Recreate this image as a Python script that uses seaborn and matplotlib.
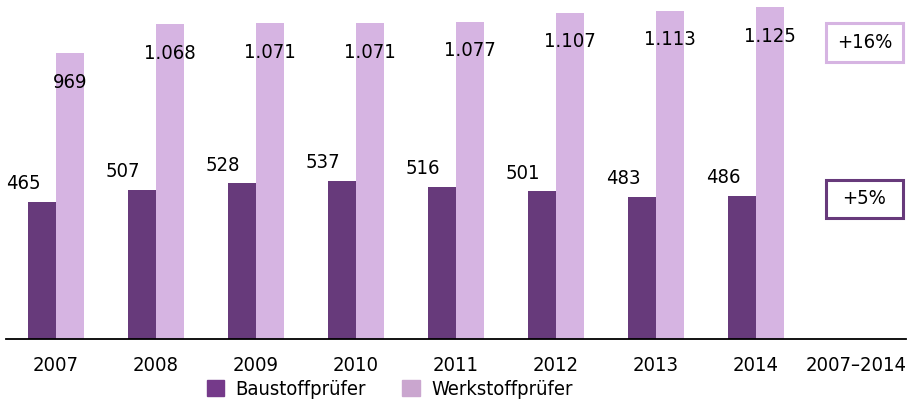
import pandas as pd
import matplotlib
matplotlib.use("Agg")
import matplotlib.pyplot as plt
import seaborn as sns
from matplotlib.patches import Patch, Rectangle

# data
years = ["2007", "2008", "2009", "2010", "2011", "2012", "2013", "2014"]
baustoff = [465, 507, 528, 537, 516, 501, 483, 486]
werkstoff = [969, 1068, 1071, 1071, 1077, 1107, 1113, 1125]
summary_label = "2007–2014"
change_werkstoff = "+16%"
change_baustoff = "+5%"
series_names = ["Baustoffprüfer", "Werkstoffprüfer"]

dark = "#673a7b"
light = "#d6b4e2"

sns.set_style("white")
plt.rcParams["font.family"] = ["DejaVu Sans"]
plt.rcParams["font.stretch"] = "condensed"
plt.rcParams["font.size"] = 14.5
plt.rcParams["text.color"] = "black"
plt.rcParams["xtick.color"] = "black"

df = pd.DataFrame({
    "year": years * 2,
    "value": baustoff + werkstoff,
    "series": [series_names[0]] * len(years) + [series_names[1]] * len(years),
})

fig = plt.figure(figsize=(9.13, 4.12), dpi=100)
ax = fig.add_axes([6 / 913, 73 / 412, 900 / 913, 339 / 412])

sns.barplot(data=df, x="year", y="value", hue="series",
            order=years + [summary_label], hue_order=series_names,
            palette=[dark, light], width=0.56, gap=0, saturation=1,
            linewidth=0, legend=False, ax=ax)

ax.set_xlim(-0.5, 8.5)
ax.set_ylim(0, 1150)
ax.set_xlabel("")
ax.set_ylabel("")
ax.set_yticks([])
for s in ["top", "right", "left"]:
    ax.spines[s].set_visible(False)
ax.spines["bottom"].set_linewidth(1.3)
ax.spines["bottom"].set_color("black")
ax.tick_params(axis="x", length=0, pad=12, labelsize=14.5)

fmt = lambda v: f"{int(v):,}".replace(",", ".")

# dark bar labels: up and to the left of the bar
for bar, v in zip(ax.containers[0], baustoff):
    ax.annotate(fmt(v), (bar.get_x() + bar.get_width() / 2, bar.get_height()),
                xytext=(-19, 18), textcoords="offset pixels",
                ha="center", va="center")
# light bar labels: inside near the top
for bar, v in zip(ax.containers[1], werkstoff):
    ax.annotate(fmt(v), (bar.get_x() + bar.get_width() / 2, bar.get_height()),
                xytext=(0, -29), textcoords="offset pixels",
                ha="center", va="center")

# change boxes in the summary column
idx = len(years)
for label, yc, col in [(change_werkstoff, 1007, light), (change_baustoff, 475, dark)]:
    ax.add_patch(Rectangle((idx - 0.3, yc - 66), 0.77, 132, fc="white", ec=col,
                           lw=2.2, clip_on=False))
    ax.text(idx + 0.085, yc, label, ha="center", va="center")

handles = [Patch(color="#753a8a", label=series_names[0]),
           Patch(color="#caa6cf", label=series_names[1])]
fig.legend(handles=handles, loc="lower center", bbox_to_anchor=(0.427, -0.012),
           ncol=2, frameon=False, handlelength=0.85, handleheight=0.85,
           handletextpad=0.6, columnspacing=1.8)

fig.savefig("out.png", dpi=100)
